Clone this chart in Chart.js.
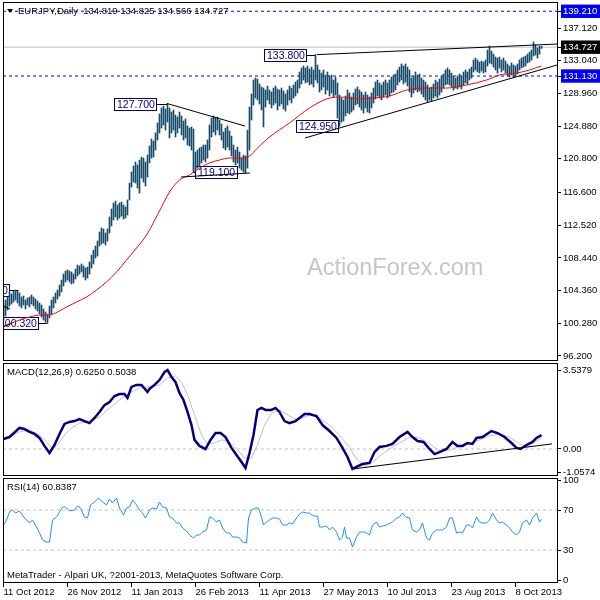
<!DOCTYPE html>
<html>
<head>
<meta charset="utf-8">
<script src="https://cdn.jsdelivr.net/npm/chart.js@4.4.0/dist/chart.umd.min.js"></script>
<style>
  html, body { margin: 0; padding: 0; background: #fff; }
  #wrap { position: relative; width: 600px; height: 600px; overflow: hidden; }
  #wrap canvas { position: absolute; left: 0; }
</style>
</head>
<body>
<div id="wrap">
  <canvas id="mainChart" width="600" height="362" style="top:0"></canvas>
  <canvas id="macdChart" width="600" height="116" style="top:361px"></canvas>
  <canvas id="rsiChart" width="600" height="124" style="top:476px"></canvas>
</div>
<script>
const dateLabels = ["11 Oct 2012", "26 Nov 2012", "11 Jan 2013", "26 Feb 2013", "11 Apr 2013",
                    "27 May 2013", "10 Jul 2013", "23 Aug 2013", "8 Oct 2013"];
const dateTickIdx = [0, 32, 64, 96, 128, 160, 192, 224, 256];

// máximos y mínimos de cada barra (una barra por día)
const barHigh = [
  102.56,103.18,103.56,104.18,103.93,104.31,104.43,104.31,104.06,103.56,
  103.68,103.18,103.43,103.56,103.81,103.56,103.31,103.06,102.81,102.56,
  102.06,101.69,101.44,102.44,103.18,103.56,104.06,104.43,105.06,105.68,
  106.43,106.80,106.93,106.80,106.68,106.43,107.05,107.55,107.43,107.68,
  107.43,107.18,107.30,107.93,108.80,109.42,109.92,110.54,111.67,112.17,
  112.04,111.54,112.04,113.54,114.54,115.29,115.53,115.04,115.29,115.41,
  115.04,114.79,115.66,117.78,119.15,119.90,120.40,120.03,120.65,121.02,
  120.90,120.40,121.27,122.40,123.27,123.02,124.02,125.27,126.39,127.14,
  127.39,127.01,127.70,127.14,126.64,126.89,126.26,126.01,126.64,126.14,
  125.52,125.77,124.89,124.64,124.77,124.52,121.65,121.90,122.15,122.27,
  122.52,122.52,123.15,125.02,125.89,126.14,125.89,126.01,125.64,125.14,
  124.14,124.64,124.89,124.27,123.64,122.52,121.90,122.27,121.65,120.90,
  121.27,121.15,124.39,127.26,128.88,130.63,130.88,130.75,130.13,129.76,
  129.63,129.38,129.88,129.38,129.13,129.63,129.88,129.51,129.38,129.63,
  129.26,128.88,129.38,129.88,129.63,130.01,130.38,130.63,131.63,132.13,
  132.38,132.13,132.38,132.00,132.25,131.88,133.80,132.50,131.88,131.50,
  131.88,131.25,131.63,131.13,131.25,130.63,131.00,130.26,128.76,128.38,
  128.14,128.63,129.38,129.01,128.51,129.01,129.51,129.76,129.38,129.13,
  128.76,129.13,128.76,128.51,129.01,129.63,130.38,130.63,130.26,130.01,
  130.38,130.63,130.26,130.63,131.00,131.25,131.38,131.88,132.25,132.63,
  132.38,132.63,132.25,131.88,130.88,131.13,131.63,131.25,131.38,130.88,
  130.63,130.38,130.01,129.63,129.76,130.13,130.63,130.38,130.75,131.13,
  131.38,131.88,132.13,131.88,131.50,131.13,130.88,131.13,131.38,131.13,
  131.63,131.88,131.63,132.00,132.25,133.13,133.37,133.13,132.88,133.00,
  132.88,133.13,134.37,134.87,134.25,133.87,133.50,133.37,133.50,133.13,
  133.37,133.00,132.63,132.38,132.75,132.50,132.38,132.63,133.13,133.37,
  133.50,133.62,133.87,134.12,134.37,135.37,135.00,134.62,134.87,134.83
];
const barLow = [
  100.69,101.19,101.94,102.44,102.69,102.93,103.18,102.81,102.44,102.19,
  102.56,102.06,102.56,102.31,102.69,102.44,102.06,101.81,101.44,101.06,
  100.69,100.44,100.32,100.94,101.44,102.19,102.81,103.31,103.68,104.18,
  104.93,105.43,105.68,105.43,105.18,105.31,105.81,106.18,106.43,106.68,
  106.05,105.68,105.93,106.43,107.18,107.68,108.42,108.67,109.92,110.17,
  110.30,110.05,110.54,111.54,112.42,113.17,113.54,113.17,113.41,113.66,
  113.29,113.41,113.79,115.66,117.28,117.90,117.78,117.16,116.53,118.40,
  117.90,117.41,118.53,120.28,120.90,121.02,121.90,123.15,124.02,124.64,
  125.02,124.39,125.39,123.40,124.02,124.39,123.52,124.02,124.64,123.77,
  123.15,123.40,122.52,122.40,121.90,119.10,119.40,119.65,119.90,120.28,
  120.65,120.40,120.90,121.90,123.52,124.14,123.77,124.39,123.77,123.15,
  122.15,121.90,122.27,121.90,121.15,120.40,120.03,120.28,119.65,119.40,
  119.15,119.03,119.65,121.90,125.64,127.51,128.38,128.14,127.64,126.89,
  124.77,127.26,128.14,127.64,127.14,127.51,127.76,126.89,127.39,127.64,
  127.01,126.76,127.51,128.14,127.76,128.38,128.63,129.01,129.63,130.13,
  130.63,130.26,130.38,130.01,130.13,129.76,130.63,130.26,129.13,129.38,
  129.76,128.88,129.38,128.63,129.01,128.51,128.76,125.89,124.95,125.39,
  125.52,126.14,126.51,126.39,126.64,126.89,127.51,127.64,127.26,126.89,
  126.51,127.14,126.64,126.51,127.14,127.76,128.26,128.63,128.38,128.14,
  128.51,128.76,128.38,128.63,129.01,129.13,129.38,130.01,130.38,130.63,
  130.13,130.38,129.88,129.13,128.51,129.01,129.38,129.13,129.26,128.88,
  128.51,128.14,127.89,128.14,128.01,128.38,128.63,128.38,128.76,129.13,
  129.63,130.01,130.13,130.01,129.76,129.38,129.63,129.51,129.76,129.51,
  130.01,130.26,130.13,130.63,130.88,131.63,131.88,131.63,131.50,131.75,
  131.50,131.63,132.38,132.75,132.63,132.25,131.88,131.50,132.13,131.63,
  131.88,131.50,131.13,131.00,131.25,131.00,131.13,131.38,131.88,132.13,
  132.25,132.38,132.75,132.88,133.13,133.62,133.75,133.37,133.87,134.57
];

// media móvil (línea roja)
const maIdx = [0, 8, 13, 18, 23, 27, 31.5, 36.5, 41.5, 46.5,
               51.5, 56.5, 61.5, 66.5, 71.5, 78, 83, 88, 93, 98,
               103, 108, 113, 118, 122, 128, 133, 143, 153, 161.5,
               168, 178, 184.5, 193, 201.5, 211.5, 221.5, 231.5, 241.5, 248,
               256.5, 263, 269];
const maVal = [99.9, 100.69, 101.06, 101.31, 101.31, 101.69, 102.31, 102.94, 103.56, 104.43,
               105.43, 106.68, 108.17, 109.67, 111.29, 114.29, 116.66, 118.16, 118.78, 119.65,
               120.28, 120.65, 120.90, 120.90, 121.02, 122.40, 123.52, 125.27, 127.14, 128.26,
               128.51, 128.26, 128.38, 128.63, 129.38, 129.63, 129.63, 130.01, 130.63, 131.25,
               131.50, 131.88, 132.38];

// MACD(12,26,9): línea principal y señal
const macdIdx = [0, 3, 8, 10.5, 13, 15.5, 18, 20.5, 23, 25.5,
                 28, 30.5, 33, 35.5, 38, 40.5, 43, 45.5, 48, 50.5,
                 53, 55.5, 58, 60.5, 62, 64, 66.5, 69, 72, 73,
                 75.5, 78, 80.5, 82, 84, 86, 88, 90, 92, 94,
                 95.5, 98, 101, 103.5, 106, 108.5, 111, 114, 116.5, 119,
                 121, 123, 125, 127, 129, 131, 134, 136, 138, 140.5,
                 143, 146, 148, 150.5, 153, 156.5, 159.5, 163, 166.5, 169.5,
                 172, 174.5, 176.5, 179.5, 183, 185.5, 188, 191.5, 194.5, 198,
                 202, 204.5, 207, 210, 213, 215.5, 218, 221.5, 224.5, 227,
                 229.5, 232, 234.5, 236.5, 239.5, 244, 247, 250.5, 254, 256.5,
                 258.5, 261.5, 264.5, 266.5, 269];
const macdVal = [0.45, 0.54, 0.95, 0.90, 0.77, 0.68, 0.50, 0.14, -0.18, 0.18,
                 0.68, 1.13, 1.22, 1.26, 1.35, 1.26, 1.17, 1.40, 1.67, 1.98,
                 2.12, 2.39, 2.48, 2.48, 2.30, 2.80, 2.89, 2.89, 2.57, 2.71,
                 2.89, 3.11, 3.47, 3.56, 3.25, 3.02, 2.53, 2.21, 1.67, 1.08,
                 0.41, 0.14, 0.00, 0.41, 0.72, 0.72, 0.54, 0.05, -0.27, -0.59,
                 -0.86, -0.18, 0.63, 1.76, 1.85, 1.76, 1.76, 1.85, 1.67, 1.26,
                 1.17, 1.26, 1.40, 1.58, 1.58, 1.49, 1.08, 0.81, 0.50, 0.05,
                 -0.36, -0.90, -0.81, -0.68, -0.63, -0.14, 0.09, 0.14, 0.23, 0.54,
                 0.77, 0.54, 0.36, 0.32, 0.00, -0.23, -0.14, 0.00, 0.32, 0.14,
                 0.14, 0.27, 0.23, 0.50, 0.54, 0.81, 0.72, 0.54, 0.27, 0.05,
                 0.00, 0.18, 0.32, 0.50, 0.625];
const signalIdx = [0, 8, 13, 18, 22, 24.5, 27, 30.5, 34, 38,
                   43, 48, 53, 58, 63, 68, 73, 78, 82, 86,
                   89, 92, 95.5, 99, 102, 105.5, 109, 113, 117, 120.5,
                   124, 127, 130.5, 134, 138, 143, 147, 153, 158, 163,
                   168, 173, 177, 180.5, 184, 188, 193, 198, 203, 208,
                   213, 218, 223, 228, 233, 238, 243, 248, 253, 258,
                   262, 265.5, 269];
const signalVal = [0.45, 0.77, 0.86, 0.63, 0.27, 0.00, 0.18, 0.63, 0.95, 1.17,
                   1.26, 1.44, 1.85, 2.21, 2.53, 2.75, 2.80, 2.89, 3.20, 3.29,
                   3.02, 2.44, 1.53, 0.63, 0.23, 0.27, 0.41, 0.32, -0.05, -0.41,
                   -0.41, 0.18, 1.08, 1.62, 1.76, 1.49, 1.31, 1.53, 1.40, 1.08,
                   0.63, 0.05, -0.50, -0.77, -0.63, -0.32, 0.00, 0.27, 0.54, 0.50,
                   0.23, -0.09, -0.05, 0.14, 0.23, 0.41, 0.59, 0.68, 0.54, 0.23,
                   0.09, 0.30, 0.50];

// RSI(14)
const rsiIdx = [0, 1.5, 3, 4.5, 6, 8, 10.5, 13, 14.5, 16.5,
                18, 19.5, 21.5, 23, 24.5, 26.5, 28, 29.5, 31, 33,
                35.5, 37, 38.5, 40.5, 42, 43.5, 45.5, 47.5, 49.5, 51.5,
                53, 54.5, 56.5, 58, 60, 61.5, 63, 64.5, 66.5, 68,
                69.5, 71, 73, 74.5, 76.5, 78, 79.5, 81.5, 83, 84.5,
                86.5, 88, 89.5, 91.5, 93, 95, 96.5, 98, 99.5, 101.5,
                103, 104.5, 106.5, 108, 109.5, 111.5, 113, 114.5, 116.5, 118,
                119.5, 121.5, 122.5, 124, 126, 127.5, 129, 130, 131.5, 133,
                134.5, 136.5, 138, 139.5, 141.5, 143, 144.5, 146.5, 148, 149.5,
                151.5, 153, 154, 155.5, 157, 158, 159.5, 161.5, 163, 164.5,
                166.5, 168, 169.5, 170.5, 171.5, 173, 174.5, 176.5, 178, 180.5,
                183, 184.5, 186.5, 188, 189.5, 191.5, 194.5, 196.5, 198, 199.5,
                201, 203, 204.5, 206.5, 208, 209.5, 211.5, 213, 214.5, 216.5,
                218, 219.5, 221.5, 223, 224.5, 226.5, 228, 229.5, 231.5, 233,
                234.5, 236.5, 238, 239.5, 241.5, 243, 244.5, 246.5, 248, 249.5,
                251.5, 253, 254.5, 256.5, 258, 259.5, 261.5, 263, 264.5, 266.5,
                268, 269];
const rsiVal = [55, 60, 68, 70, 67, 69, 62, 57, 60, 53,
                47, 40, 38, 38, 60, 63, 68, 73, 73, 69,
                70, 74, 72, 63, 62, 75, 78, 82, 78, 75,
                81, 77, 82, 72, 65, 72, 73, 80, 75, 70,
                67, 62, 70, 72, 71, 78, 73, 72, 63, 62,
                57, 57, 52, 49, 45, 42, 45, 45, 48, 50,
                63, 62, 58, 60, 52, 47, 47, 43, 43, 42,
                38, 37, 62, 70, 72, 72, 63, 55, 58, 60,
                62, 62, 61, 55, 55, 57, 56, 62, 66, 68,
                67, 67, 65, 64, 64, 53, 53, 54, 50, 53,
                48, 40, 43, 53, 42, 42, 33, 43, 48, 48,
                45, 55, 58, 53, 54, 55, 58, 62, 63, 67,
                63, 62, 50, 48, 50, 57, 42, 40, 47, 50,
                50, 50, 53, 62, 62, 47, 48, 47, 55, 55,
                52, 63, 58, 57, 57, 60, 67, 60, 57, 58,
                55, 52, 48, 45, 48, 57, 60, 55, 62, 67,
                58, 60.84];

// escalas de precio y niveles marcados
const priceTicks = [139.21, 137.12, 134.727, 133.04, 131.13, 128.96, 124.88, 120.80,
                    116.60, 112.52, 108.44, 104.36, 100.28, 96.20];
const blueLevels = [139.21, 131.13];
const bidLevel = 134.727;
const macdTicks = [3.5379, 0, -1.0574];
const rsiTicks = [100, 70, 30, 0];
const rsiLevels = [70, 30];

// líneas de tendencia: [[barra, precio], [barra, precio]]
const priceTrends = [
  [[156.75, 133.80], [276.75, 135.12]],
  [[150.75, 123.40], [276.75, 132.50]],
  [[81.75, 127.70], [120.75, 124.89]],
  [[88.75, 118.53], [123.25, 119.03]],
  [[-0.25, 102.44], [3.25, 102.06]],
  [[-0.25, 99.82], [4.25, 100.32]]
];
const macdTrend = [[174.75, -0.90], [274.25, 0.23]];

// etiquetas de precio: texto, nivel, borde de la caja y barra señalada
const priceLabels = [
  { text: "133.800", price: 133.80, edge: 151.75, bar: 156.25, side: "left" },
  { text: "127.700", price: 127.70, edge: 76.75, bar: 81.75, side: "left" },
  { text: "124.950", price: 124.95, edge: 167.75, bar: 168, side: "left" },
  { text: "119.100", price: 119.10, edge: 95.75, bar: 95, side: "right" },
  { text: "100.320", price: 100.32, edge: 17.75, bar: 22, side: "left" },
  { text: "104.430", price: 104.43, edge: 3.25, bar: 7.5, side: "left" }
];

const X_MIN = -0.25, X_MAX = 276.75;
const AXIS_W = 43;
const FONT = '"Liberation Sans", Arial, sans-serif';
const BAR_COLOR = "#174a68";

Chart.defaults.font.family = FONT;
Chart.defaults.font.size = 9.5;
Chart.defaults.color = "#000";
Chart.defaults.animation = false;

function pairs(idx, val) {
    return idx.map((x, i) => ({ x: x, y: val[i] }));
}

function levelLine(v) {
    return [{ x: X_MIN, y: v }, { x: X_MAX, y: v }];
}

function lineSet(data, color, width, order, dash) {
    return {
        type: "line", data: data, borderColor: color, borderWidth: width,
        borderDash: dash || [], pointRadius: 0, tension: 0, order: order
    };
}

// Eje derecho con ticks fijos
function rightScale(min, max, ticks, fmt, tickOpts) {
    return {
        type: "linear", position: "right", min: min, max: max,
        afterBuildTicks: (s) => { s.ticks = ticks.map((v) => ({ value: v })); },
        afterFit: (s) => { s.width = AXIS_W; s.paddingTop = 0; s.paddingBottom = 0; },
        border: { display: false },
        grid: { drawOnChartArea: false, drawTicks: true, tickLength: 4, color: "#000" },
        ticks: Object.assign({ autoSkip: false, padding: 2, color: "#000", callback: fmt }, tickOpts || {})
    };
}

function hiddenX() {
    return { type: "linear", min: X_MIN, max: X_MAX, display: false, offset: false };
}

function drawFrame(chart) {
    const { ctx, chartArea: a } = chart;
    ctx.save();
    ctx.strokeStyle = "#000";
    ctx.lineWidth = 1;
    ctx.strokeRect(Math.round(a.left) + 0.5, Math.round(a.top) + 0.5,
                   Math.round(a.right - a.left), Math.round(a.bottom - a.top));
    ctx.restore();
}

function drawText(chart, text, dx, dy, font, color) {
    const { ctx, chartArea: a } = chart;
    ctx.save();
    ctx.font = font;
    ctx.fillStyle = color;
    ctx.textAlign = "left";
    ctx.textBaseline = "middle";
    ctx.fillText(text, a.left + dx, a.top + dy);
    ctx.restore();
}

// Cajas de precio estilo MetaTrader
function drawPriceLabels(chart) {
    const { ctx, chartArea: a, scales } = chart;
    ctx.save();
    ctx.beginPath();
    ctx.rect(a.left, a.top, a.right - a.left, a.bottom - a.top);
    ctx.clip();
    ctx.font = "10.5px " + FONT;
    ctx.textBaseline = "middle";
    ctx.lineWidth = 1;
    priceLabels.forEach((l) => {
        const py = Math.round(scales.y.getPixelForValue(l.price));
        const ex = Math.round(scales.x.getPixelForValue(l.edge));
        const bx = scales.x.getPixelForValue(l.bar);
        const w = Math.ceil(ctx.measureText(l.text).width) + 5;
        const h = 12;
        const left = l.side === "left" ? ex - w : ex;
        ctx.strokeStyle = "#000";
        ctx.beginPath();
        ctx.moveTo(ex, py + 0.5);
        ctx.lineTo(bx, py + 0.5);
        ctx.stroke();
        ctx.fillStyle = "#fff";
        ctx.fillRect(left, py - 6, w, h);
        ctx.strokeStyle = "#000080";
        ctx.strokeRect(left + 0.5, py - 5.5, w - 1, h);
        ctx.fillStyle = "#000080";
        ctx.fillText(l.text, left + 3, py + 1);
    });
    ctx.restore();
}

// Gráfico principal: barras, media móvil y líneas
function createMainChart() {
    const ctx = document.getElementById("mainChart").getContext("2d");
    const hl = (v) => {
        if (Math.abs(v - bidLevel) < 1e-6) return "#000";
        if (blueLevels.some((b) => Math.abs(b - v) < 1e-6)) return "#0000ff";
        return null;
    };
    const datasets = [
        {
            type: "bar",
            data: barHigh.map((h, i) => ({ x: i, y: [barLow[i], h] })),
            backgroundColor: BAR_COLOR, barThickness: 1, grouped: false, order: 5
        },
        Object.assign(lineSet(pairs(maIdx, maVal), "#ff0000", 1, 4), { cubicInterpolationMode: "monotone" }),
        lineSet(levelLine(bidLevel), "#c0c0c0", 1, 9)
    ];
    blueLevels.forEach((v) => datasets.push(lineSet(levelLine(v), "#0000ff", 1, 8, [3, 3])));
    priceTrends.forEach((t) => datasets.push(lineSet(t.map((p) => ({ x: p[0], y: p[1] })), "#000", 1, 1)));

    return new Chart(ctx, {
        type: "bar",
        data: { datasets: datasets },
        options: {
            responsive: false,
            events: [],
            layout: { padding: { left: 3, top: 2, bottom: 2, right: 0 } },
            plugins: { legend: { display: false }, tooltip: { enabled: false } },
            scales: {
                x: hiddenX(),
                y: rightScale(95.70, 140.364, priceTicks, (v) => v.toFixed(3), {
                    color: (c) => (hl(c.tick.value) ? "#fff" : "#000"),
                    showLabelBackdrop: (c) => !!hl(c.tick.value),
                    backdropColor: (c) => hl(c.tick.value) || "#fff",
                    backdropPadding: { top: 1, bottom: 1, left: 2, right: 3 }
                })
            }
        },
        plugins: [{
            id: "mainDecor",
            beforeDatasetsDraw(chart) {
                const { ctx } = chart;
                ctx.save();
                ctx.font = "23.5px " + FONT;
                ctx.fillStyle = "#c6c6c6";
                ctx.textBaseline = "alphabetic";
                ctx.fillText("ActionForex.com", chart.scales.x.getPixelForValue(151.75), 275);
                ctx.restore();
                drawPriceLabels(chart);
            },
            afterDraw(chart) {
                const { ctx } = chart;
                ctx.save();
                ctx.fillStyle = "#000";
                ctx.beginPath();
                ctx.moveTo(7, 9); ctx.lineTo(13, 9); ctx.lineTo(10, 13); ctx.closePath();
                ctx.fill();
                ctx.restore();
                drawText(chart, "EURJPY,Daily  134.819 134.825 134.566 134.727", 15, 9.5, "9.5px " + FONT, "#000");
                drawFrame(chart);
            }
        }]
    });
}

// Panel MACD
function createMacdChart() {
    const ctx = document.getElementById("macdChart").getContext("2d");
    return new Chart(ctx, {
        type: "line",
        data: {
            datasets: [
                lineSet(levelLine(0), "#c0c0c0", 1, 9, [3, 3]),
                lineSet(pairs(signalIdx, signalVal), "#c0c0c0", 1, 3),
                lineSet(pairs(macdIdx, macdVal), "#000080", 2.5, 2),
                lineSet(macdTrend.map((p) => ({ x: p[0], y: p[1] })), "#000", 1, 1)
            ]
        },
        options: {
            responsive: false,
            events: [],
            layout: { padding: { left: 3, top: 2, bottom: 2, right: 0 } },
            plugins: { legend: { display: false }, tooltip: { enabled: false } },
            scales: {
                x: hiddenX(),
                y: rightScale(-1.173, 3.879, macdTicks, (v) => (v === 0 ? "0.00" : v.toFixed(4)))
            }
        },
        plugins: [{
            id: "macdDecor",
            afterDraw(chart) {
                drawText(chart, "MACD(12,26,9) 0.6250 0.5038", 4, 9.5, "9.5px " + FONT, "#000");
                drawFrame(chart);
            }
        }]
    });
}

// Panel RSI con el eje de fechas
function createRsiChart() {
    const ctx = document.getElementById("rsiChart").getContext("2d");
    const datasets = rsiLevels.map((v) => lineSet(levelLine(v), "#c0c0c0", 1, 9, [3, 3]));
    datasets.push(lineSet(pairs(rsiIdx, rsiVal), "#1e90ff", 1, 2));
    return new Chart(ctx, {
        type: "line",
        data: { datasets: datasets },
        options: {
            responsive: false,
            events: [],
            layout: { padding: { left: 3, top: 2, bottom: 0, right: 0 } },
            plugins: { legend: { display: false }, tooltip: { enabled: false } },
            scales: {
                x: {
                    type: "linear", min: X_MIN, max: X_MAX, offset: false,
                    afterBuildTicks: (s) => { s.ticks = dateTickIdx.map((v) => ({ value: v })); },
                    afterFit: (s) => { s.height = 18; s.paddingLeft = 0; s.paddingRight = 0; },
                    border: { display: false },
                    grid: { drawOnChartArea: false, drawTicks: true, tickLength: 5, color: "#000" },
                    ticks: {
                        autoSkip: false, maxRotation: 0, align: "start", padding: 0, color: "#000",
                        callback: (v, i) => dateLabels[i]
                    }
                },
                y: rightScale(-2, 102, rsiTicks, (v) => String(v))
            }
        },
        plugins: [{
            id: "rsiDecor",
            afterDraw(chart) {
                drawText(chart, "RSI(14) 60.8387", 4, 9, "9.5px " + FONT, "#000");
                drawText(chart, "MetaTrader - Alpari UK, ?2001-2013, MetaQuotes Software Corp.", 4, 97, "9.5px " + FONT, "#000");
                drawFrame(chart);
            }
        }]
    });
}

document.addEventListener("DOMContentLoaded", () => {
    createMainChart();
    createMacdChart();
    createRsiChart();
});
</script>
</body>
</html>
